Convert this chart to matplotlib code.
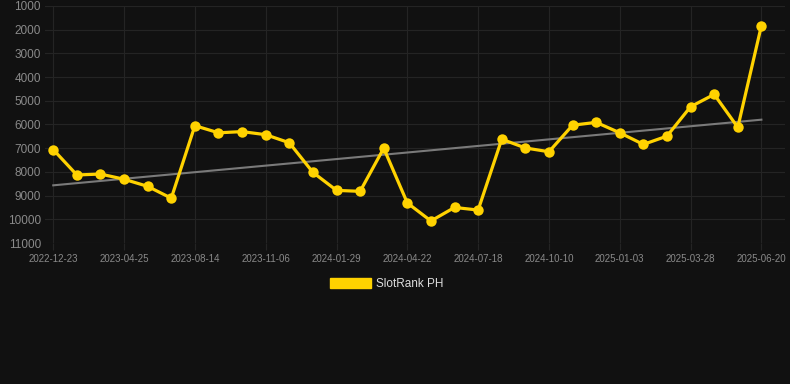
import numpy as np
import matplotlib
matplotlib.use("Agg")
import matplotlib.pyplot as plt
from matplotlib.patches import Patch

plt.rcParams['font.family'] = ['Liberation Sans', 'DejaVu Sans']

# rank values (lower is better, axis is reversed)
ranks = [7060, 8130, 8090, 8310, 8610, 9110, 6050, 6350, 6300, 6430,
         6770, 8020, 8780, 8820, 7000, 9310, 10070, 9500, 9610, 6620,
         6990, 7150, 6030, 5910, 6350, 6840, 6490, 5250, 4730, 6120,
         1830]
tick_labels = ['2022-12-23', '2023-04-25', '2023-08-14', '2023-11-06',
               '2024-01-29', '2024-04-22', '2024-07-18', '2024-10-10',
               '2025-01-03', '2025-03-28', '2025-06-20']
y_ticks = [1000, 2000, 3000, 4000, 5000, 6000, 7000, 8000, 9000, 10000, 11000]
series_name = 'SlotRank PH'

bg = '#111111'
gold = '#FFD200'

x = np.arange(len(ranks))
slope, icpt = np.polyfit(x, ranks, 1)

fig = plt.figure(figsize=(7.9, 3.84), dpi=100, facecolor=bg)
ax = fig.add_axes([45 / 790, 1 - 243 / 384, 740 / 790, 237 / 384], facecolor=bg)

ax.plot(x, slope * x + icpt, color='#7a7a7a', lw=1.5, zorder=2)
ax.plot(x, ranks, color=gold, lw=2.3, marker='o', markersize=7.5,
        markeredgewidth=0, zorder=3)

ax.set_ylim(11000, 1000)
ax.set_yticks(y_ticks)
ax.set_yticklabels([str(v) for v in y_ticks])
ax.set_xlim(-0.35, 31.0)
ax.set_xticks(x[::3])
ax.set_xticklabels(tick_labels)

ax.grid(True, color='#242424', lw=0.8)
ax.set_axisbelow(True)
for s in ax.spines.values():
    s.set_visible(False)
ax.tick_params(axis='y', length=0, pad=3, labelsize=8.5, labelcolor='#8a8a8a')
ax.tick_params(axis='x', length=5, width=0.8, color='#242424', pad=3,
               labelsize=7, labelcolor='#8a8a8a')

handle = Patch(facecolor=gold, edgecolor=gold)
fig.legend([handle], [series_name], loc='center', bbox_to_anchor=(0.49, 1 - 284 / 384),
           frameon=False, handlelength=3.4, handleheight=1.0, fontsize=8.5,
           labelcolor='#dddddd', handletextpad=0.5)

fig.savefig('out.png', dpi=100, facecolor=bg)
